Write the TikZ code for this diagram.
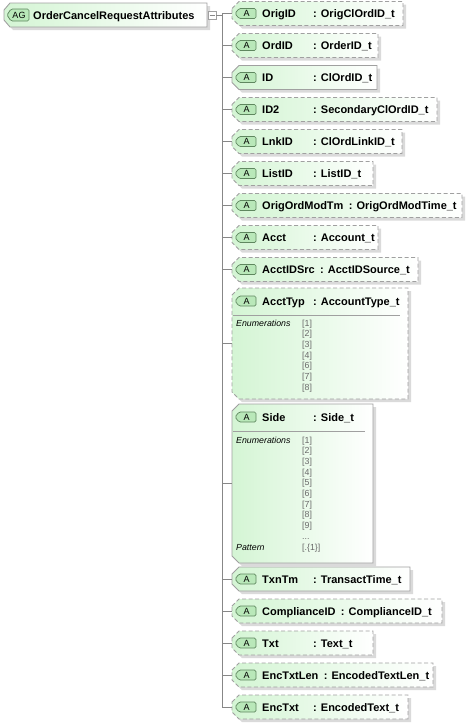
\documentclass[tikz,border=0pt]{standalone}
\usepackage{fontspec}
\setmainfont{Liberation Sans}
\usetikzlibrary{calc}
\definecolor{bordergray}{RGB}{160,160,160}
\definecolor{boxgreen}{RGB}{212,245,212}
\definecolor{tagfill}{RGB}{185,232,185}
\definecolor{tagborder}{RGB}{95,135,95}
\definecolor{linegray}{RGB}{135,135,135}
\definecolor{valgray}{RGB}{105,105,105}
\definecolor{shadowcol}{RGB}{218,218,218}
\tikzset{
  nm/.style={font=\fontsize{11}{13}\selectfont\bfseries, inner sep=0pt, anchor=base west},
  tagtxt/.style={font=\fontsize{9}{10}\selectfont, inner sep=0pt},
  small/.style={font=\fontsize{8.8}{10}\selectfont, inner sep=0pt, anchor=base west},
  smallit/.style={small, font=\fontsize{8.8}{10}\selectfont\itshape},
  smallval/.style={small, text=valgray},
  branch/.style={draw=linegray, line width=0.9pt},
  boxline/.style={draw=bordergray, line width=0.9pt},
  opt/.style={boxline, dash pattern=on 4pt off 2.5pt},
  req/.style={boxline},
}
% #1 top, #2 bottom, #3 right, #4 border style
\newcommand\attrshape[4]{%
  \fill[shadowcol] (235,#1+10) -- (242,#1+3) -- (#3+3,#1+3) -- (#3+3,#2+3) -- (242,#2+3) -- (235,#2-4) -- cycle;
  \shade[left color=boxgreen, right color=white] (232,#1+7) -- (239,#1) -- (#3,#1) -- (#3,#2) -- (239,#2) -- (232,#2-7) -- cycle;
  \draw[#4] (232,#1+7) -- (239,#1) -- (#3,#1) -- (#3,#2) -- (239,#2) -- (232,#2-7) -- cycle;
}
% #1 yc, #2 left, #3 right, #4 text
\newcommand\atag[4]{%
  \draw[draw=tagborder, fill=tagfill, line width=0.7pt, rounded corners=1.5pt] (#3,#1-5) -- (#2+4,#1-5) -- (#2,#1) -- (#2+4,#1+5) -- (#3,#1+5) -- cycle;
  \node[tagtxt] at ({(#2+#3)/2+1},#1) {#4};
}
% #1 id, #2 yc, #3 right, #4 style, #5 name, #6 type
\newcommand\attrbox[6]{%
  \attrshape{#2-12}{#2+12}{#3}{#4}
  \atag{#2}{235}{256}{A}
  \node[nm] (#1) at (262,#2+4) {#5};
  \path let \p1=(#1.base east) in node[nm] (#1-type) at ({max(313pt,\x1+5pt)},\y1) {: #6};
  \coordinate (#1-in) at (232,#2);
  \coordinate (#1-j) at (222,#2);
  \draw[branch] (#1-j) -- (#1-in);
}
% #1 id, #2 top, #3 bottom, #4 right, #5 style, #6 name, #7 type, #8 separator right
\newcommand\xattrbox[8]{%
  \attrshape{#2}{#3}{#4}{#5}
  \atag{#2+13}{235}{256}{A}
  \node[nm] (#1) at (262,#2+17) {#6};
  \path let \p1=(#1.base east) in node[nm] (#1-type) at ({max(313pt,\x1+5pt)},\y1) {: #7};
  \draw[draw=bordergray, line width=0.8pt] (233,#2+27) -- (#8,#2+27);
  \coordinate (#1-in) at (232,{(#2+#3)/2});
  \coordinate (#1-j) at (222,{(#2+#3)/2});
  \draw[branch] (#1-j) -- (#1-in);
}
\begin{document}
\begin{tikzpicture}[x=1pt,y=-1pt]
\useasboundingbox (0,0) rectangle (472,726);

% root
\fill[shadowcol] (7,13) -- (13,6) -- (210,6) -- (210,30) -- (13,30) -- (7,23) -- cycle;
\shade[left color=boxgreen, right color=white] (4,10) -- (10,3) -- (207,3) -- (207,27) -- (10,27) -- (4,20) -- cycle;
\draw[req] (4,10) -- (10,3) -- (207,3) -- (207,27) -- (10,27) -- (4,20) -- cycle;
\draw[draw=tagborder, fill=tagfill, line width=0.7pt, rounded corners=1.5pt] (29,9) -- (11,9) -- (7,15) -- (11,21) -- (29,21) -- cycle;
\node[tagtxt] (rootTag) at (19,15) {AG};
\node[nm] (root) at (33,19) {OrderCancelRequestAttributes};
\node[draw=bordergray, fill=white, line width=0.7pt, minimum size=8pt, inner sep=0pt] (minus) at (212,15) {};
\draw[draw=linegray, line width=0.8pt] ($(minus.center)+(-2.5,0)$) -- ($(minus.center)+(2.5,0)$);
\coordinate (trunktop) at (222,15);
\draw[branch] (minus.east) -- (trunktop);

% children
\attrbox{OrigID}{13.5}{403}{opt}{OrigID}{OrigClOrdID\_t}
\attrbox{OrdID}{45.5}{378}{opt}{OrdID}{OrderID\_t}
\attrbox{ID}{77.5}{377}{req}{ID}{ClOrdID\_t}
\attrbox{IDtwo}{109.5}{437}{opt}{ID2}{SecondaryClOrdID\_t}
\attrbox{LnkID}{141.5}{402}{opt}{LnkID}{ClOrdLinkID\_t}
\attrbox{ListID}{173.5}{373}{opt}{ListID}{ListID\_t}
\attrbox{OrigOrdModTm}{205.5}{462}{opt}{OrigOrdModTm}{OrigOrdModTime\_t}
\attrbox{Acct}{237.5}{378}{opt}{Acct}{Account\_t}
\attrbox{AcctIDSrc}{269.5}{418}{opt}{AcctIDSrc}{AcctIDSource\_t}

\xattrbox{AcctTyp}{288}{399}{408}{opt}{AcctTyp}{AccountType\_t}{400}
\node[smallit] (acctEnum) at (236,326) {Enumerations};
\foreach \v [count=\i from 0] in {1,2,3,4,6,7,8}
  \node[smallval] (acctv\v) at (302,326+10.7*\i) {[\v]};

\xattrbox{Side}{404}{563}{373}{req}{Side}{Side\_t}{365}
\node[smallit] (sideEnum) at (236,443) {Enumerations};
\foreach \v [count=\i from 0] in {1,2,3,4,5,6,7,8,9}
  \node[smallval] (sidev\v) at (302,443+10.7*\i) {[\v]};
\node[smallval] (sidedots) at (302,443+10.7*9) {...};
\node[smallit] (sidePat) at (236,443+10.7*10) {Pattern};
\node[smallval] (sidePatv) at (302,443+10.7*10) {[.\{1\}]};

\attrbox{TxnTm}{579}{410}{req}{TxnTm}{TransactTime\_t}
\attrbox{ComplianceID}{611}{442}{opt}{ComplianceID}{ComplianceID\_t}
\attrbox{Txt}{643}{373}{opt}{Txt}{Text\_t}
\attrbox{EncTxtLen}{675}{433}{opt}{EncTxtLen}{EncodedTextLen\_t}
\attrbox{EncTxt}{707}{408}{opt}{EncTxt}{EncodedText\_t}

% trunk
\draw[branch] (trunktop) -- (OrigID-j);
\draw[branch] (OrigID-j) -- (EncTxt-j);
\end{tikzpicture}
\end{document}
